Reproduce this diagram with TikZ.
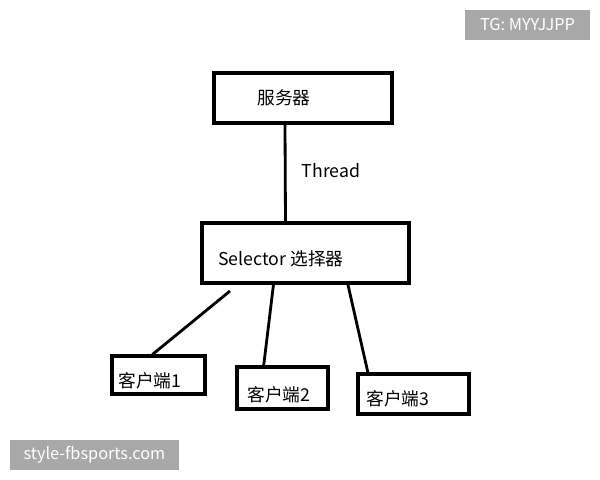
\documentclass[tikz,border=0pt]{standalone}
\usepackage{fontspec}
\setmainfont{Noto Sans CJK SC}
\definecolor{wmgray}{RGB}{168,168,168}

\begin{document}
\begin{tikzpicture}
            [x=0.025cm,y=-0.025cm,box/.style={rectangle,draw,line width=2.2pt},
             txt/.style={anchor=west,inner sep=0pt,font=\fontsize{12.6}{15}\selectfont},
             wire/.style={line width=2pt},
             mark box/.style={fill=wmgray,text=white,inner sep=0pt,font=\fontsize{11.6}{13}\selectfont}]
            \useasboundingbox (0,0) rectangle (600,480);

            \node (server) [box,minimum width=4.45cm,minimum height=1.25cm] at (303,98) {};
            \node (servertxt) [txt] at (257,98) {服务器};
            \node (sel) [box,minimum width=5.175cm,minimum height=1.5cm] at (305.5,253) {};
            \node (seltxt) [txt] at (218,259) {Selector 选择器};
            \node (c1) [box,minimum width=2.325cm,minimum height=0.95cm] at (158.5,375) {};
            \node (c1txt) [txt] at (118,381) {客户端1};
            \node (c2) [box,minimum width=2.275cm,minimum height=1.05cm] at (282.5,388) {};
            \node (c2txt) [txt] at (247,395) {客户端2};
            \node (c3) [box,minimum width=2.775cm,minimum height=1.0cm] at (413.5,394) {};
            \node (c3txt) [txt] at (366,399) {客户端3};

            \coordinate (s1) at (230,291);
            \draw [wire] ([xshift=-0.45cm]server.south) -- ([xshift=-0.5cm]sel.north)
                node [txt,pos=0.47,xshift=0.38cm] (thread) {Thread};
            \draw [wire] (s1) -- ([xshift=-0.15cm]c1.north);
            \draw [wire] ([xshift=-0.8cm]sel.south) -- ([xshift=-0.47cm]c2.north);
            \draw [wire] ([xshift=1.06cm]sel.south) -- ([xshift=-1.14cm]c3.north);

            \node (mark1) [mark box,minimum width=4.225cm,minimum height=0.75cm] at (94.5,455) {style-fbsports.com};
            \node (mark2) [mark box,minimum width=3.125cm,minimum height=0.75cm] at (527.5,25) {TG: MYYJJPP};
        \end{tikzpicture}
\end{document}
